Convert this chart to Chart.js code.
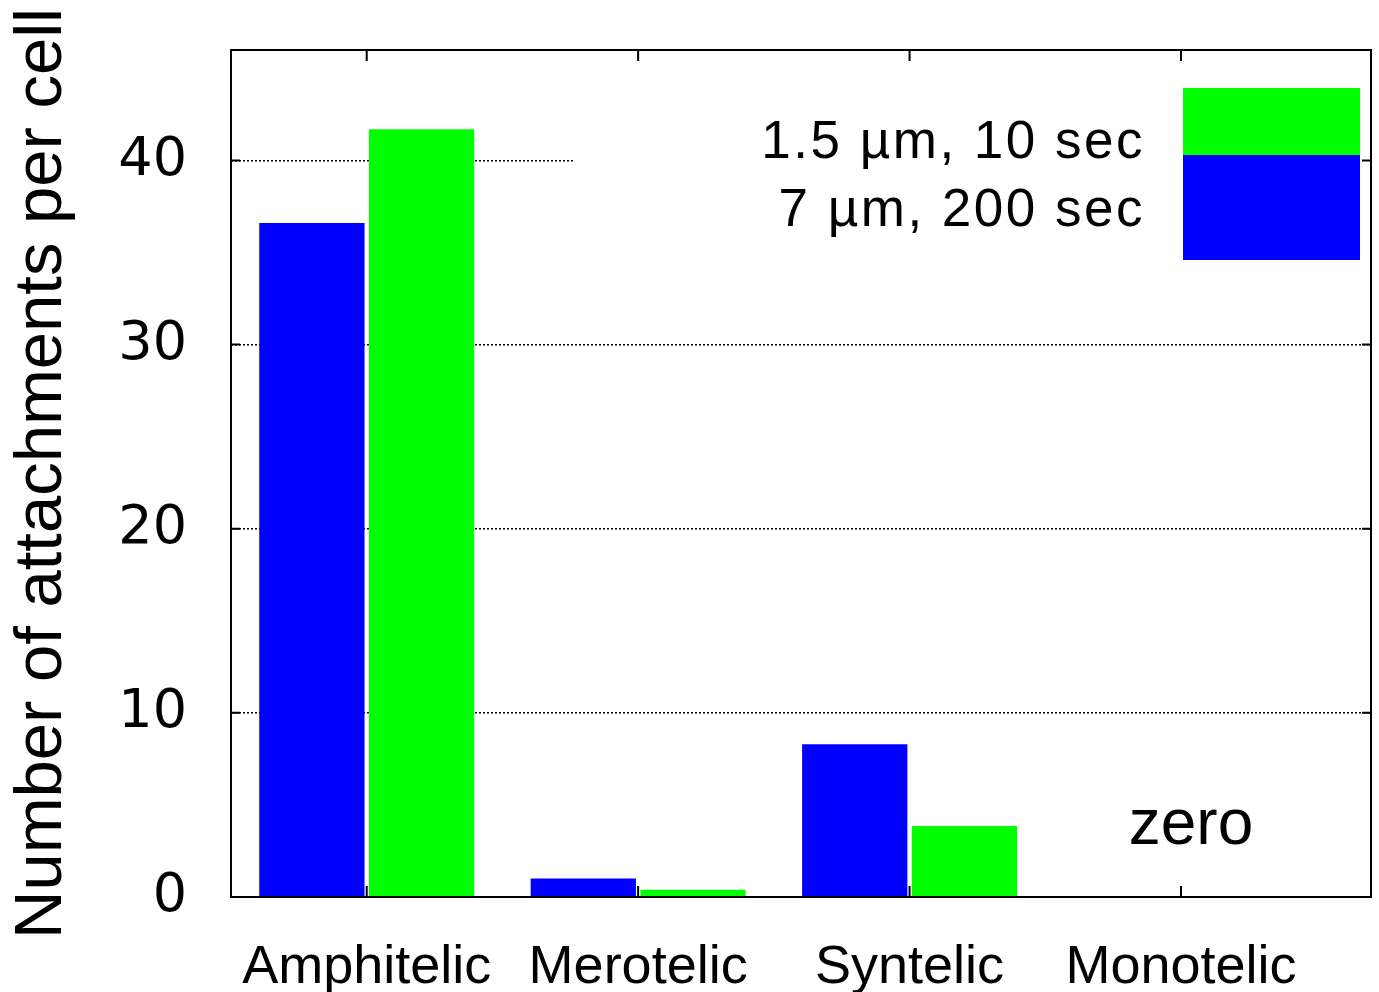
<!DOCTYPE html>
<html lang="en">
<head>
    <meta charset="UTF-8">
    <title>Attachments per cell</title>
    <style>
        body { margin: 0; background: #fff; }
        .chart-box { width: 1379px; height: 992px; }
    </style>
    <script src="https://cdn.jsdelivr.net/npm/chart.js@4/dist/chart.umd.min.js"></script>
</head>
<body>
    <div class="chart-box">
        <canvas id="grafica"></canvas>
    </div>
    <script>
        const categories = ['Amphitelic', 'Merotelic', 'Syntelic', 'Monotelic'];
        const series7um = [36.6, 1.0, 8.3, 0];     // 7 µm, 200 sec
        const series15um = [41.7, 0.4, 3.85, 0];   // 1.5 µm, 10 sec
        const seriesLabels = ['7 \u00b5m, 200 sec', '1.5 \u00b5m, 10 sec'];
        const yTicks = [0, 10, 20, 30, 40];

        const FONT = '"Liberation Sans", Arial, sans-serif';
        const BLUE = '#0000ff';
        const GREEN = '#00ff00';

        const toPoints = arr => arr.map((v, i) => ({ x: i, y: v }));

        // frame, inward ticks, key box and the "zero" note (gnuplot look)
        const gnuplotExtras = {
            id: 'gnuplotExtras',
            beforeDatasetsDraw(chart) {
                const ctx = chart.ctx;
                const a = chart.chartArea;
                // white key box hides the grid behind it
                ctx.save();
                ctx.fillStyle = '#fff';
                ctx.fillRect(575, 66, a.right - 577, 208);
                ctx.restore();
            },
            afterDatasetsDraw(chart) {
                const ctx = chart.ctx;
                const a = chart.chartArea;
                const xs = chart.scales.x;
                const ys = chart.scales.y;
                ctx.save();
                ctx.strokeStyle = '#000';
                ctx.lineWidth = 2;
                ctx.strokeRect(a.left, a.top, a.right - a.left, a.bottom - a.top);
                ctx.beginPath();
                yTicks.forEach(v => {
                    const y = ys.getPixelForValue(v);
                    ctx.moveTo(a.left, y); ctx.lineTo(a.left + 9, y);
                    ctx.moveTo(a.right, y); ctx.lineTo(a.right - 9, y);
                });
                categories.forEach((c, i) => {
                    const x = xs.getPixelForValue(i);
                    ctx.moveTo(x, a.bottom); ctx.lineTo(x, a.bottom - 11);
                    ctx.moveTo(x, a.top); ctx.lineTo(x, a.top + 11);
                });
                ctx.stroke();

                // key
                ctx.fillStyle = GREEN;
                ctx.fillRect(1183, 88, 177, 67);
                ctx.fillStyle = BLUE;
                ctx.fillRect(1183, 155, 177, 105);
                ctx.fillStyle = '#000';
                ctx.font = '53px ' + FONT;
                ctx.letterSpacing = '2.5px';
                ctx.textAlign = 'right';
                ctx.textBaseline = 'middle';
                ctx.fillText(seriesLabels[1], 1145, 143);
                ctx.fillText(seriesLabels[0], 1145, 211);

                ctx.letterSpacing = '0px';
                ctx.font = '64px ' + FONT;
                ctx.textAlign = 'center';
                ctx.fillText('zero', xs.getPixelForValue(3) + 10, ys.getPixelForValue(3.85));
                ctx.restore();
            }
        };

        const config = {
            type: 'bar',
            data: {
                datasets: [
                    {
                        label: seriesLabels[0],
                        data: toPoints(series7um),
                        backgroundColor: BLUE,
                        borderWidth: 0
                    },
                    {
                        label: seriesLabels[1],
                        data: toPoints(series15um),
                        backgroundColor: GREEN,
                        borderWidth: 0
                    }
                ]
            },
            options: {
                responsive: true,
                maintainAspectRatio: false,
                animation: false,
                categoryPercentage: 0.808,
                barPercentage: 0.96,
                layout: { padding: { top: 50, right: 8, left: 0, bottom: 0 } },
                plugins: {
                    legend: { display: false },
                    tooltip: { enabled: false }
                },
                scales: {
                    x: {
                        type: 'linear',
                        offset: false,
                        min: -0.5,
                        max: 3.7,
                        afterBuildTicks: s => { s.ticks = categories.map((c, i) => ({ value: i })); },
                        afterFit: s => {
                            s.height = 95;
                            s.paddingLeft = 0;
                            s.paddingRight = 0;
                        },
                        ticks: {
                            callback: v => categories[v],
                            font: { family: FONT, size: 54 },
                            color: '#000',
                            padding: 39,
                            maxRotation: 0,
                            autoSkip: false
                        },
                        grid: { display: false, drawTicks: false },
                        border: { display: false }
                    },
                    y: {
                        min: 0,
                        max: 46,
                        afterBuildTicks: s => { s.ticks = yTicks.map(v => ({ value: v })); },
                        afterFit: s => {
                            s.width = 231;
                            s.paddingTop = 0;
                            s.paddingBottom = 0;
                        },
                        ticks: {
                            font: { family: '"DejaVu Sans", sans-serif', size: 54 },
                            color: '#000',
                            padding: 44
                        },
                        grid: {
                            drawTicks: false,
                            lineWidth: 1.5,
                            color: c => c.tick && c.tick.value === 0 ? 'rgba(0,0,0,0)' : '#000'
                        },
                        border: { display: false, dash: [2, 2] },
                        title: {
                            display: true,
                            text: 'Number of attachments per cell',
                            font: { family: FONT, size: 67 },
                            color: '#000',
                            padding: { top: 2, bottom: 0 }
                        }
                    }
                }
            },
            plugins: [gnuplotExtras]
        };

        new Chart(document.getElementById('grafica'), config);
    </script>
</body>
</html>
